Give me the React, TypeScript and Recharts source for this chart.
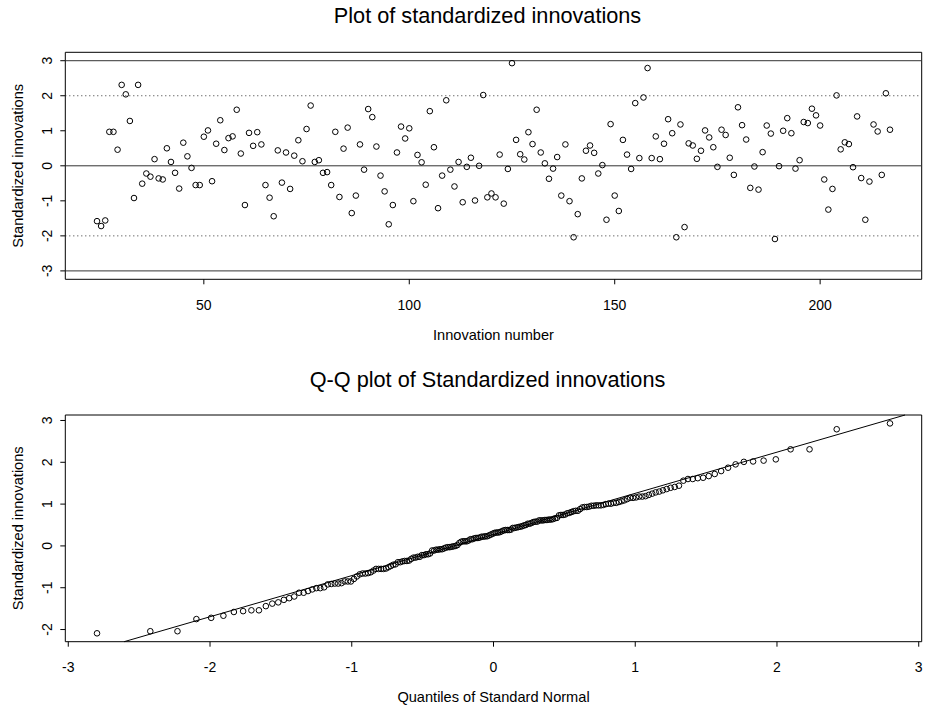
import { ScatterChart, Scatter, XAxis, YAxis, ReferenceLine, ReferenceArea } from 'recharts'

const FONT = '"Liberation Sans", Arial, Helvetica, sans-serif'

// standardized innovations, one per time index starting at 24
const firstIndex = 24
const innovations = [
  -1.58, -1.72, -1.56, 0.97, 0.97, 0.46, 2.31, 2.04, 1.28, -0.92, 2.31, -0.51, -0.22, -0.31, 0.19, -0.36, -0.39, 0.5, 0.11, -0.2, -0.65, 0.66, 0.27, -0.06, -0.55,
  -0.55, 0.83, 1.01, -0.44, 0.63, 1.3, 0.45, 0.79, 0.84, 1.6, 0.35, -1.12, 0.94, 0.57, 0.96, 0.61, -0.55, -0.91, -1.44, 0.44, -0.48, 0.38, -0.66, 0.29, 0.73,
  0.13, 1.05, 1.72, 0.11, 0.16, -0.2, -0.18, -0.55, 0.97, -0.89, 0.49, 1.09, -1.35, -0.85, 0.61, -0.11, 1.62, 1.39, 0.55, -0.28, -0.73, -1.67, -1.12, 0.38, 1.12,
  0.78, 1.07, -1.01, 0.31, 0.1, -0.54, 1.56, 0.53, -1.21, -0.28, 1.87, -0.11, -0.59, 0.11, -1.04, -0.03, 0.23, -0.99, 0.0, 2.02, -0.9, -0.79, -0.9, 0.32, -1.08,
  -0.09, 2.93, 0.74, 0.33, 0.18, 0.96, 0.62, 1.6, 0.38, 0.07, -0.37, -0.08, 0.25, -0.85, 0.61, -1.01, -2.04, -1.38, -0.36, 0.43, 0.58, 0.37, -0.22, 0.02, -1.54,
  1.19, -0.85, -1.29, 0.74, 0.32, -0.09, 1.79, 0.22, 1.95, 2.79, 0.22, 0.84, 0.19, 0.63, 1.33, 0.93, -2.04, 1.18, -1.75, 0.64, 0.58, 0.2, 0.43, 1.01, 0.81,
  0.53, -0.03, 1.03, 0.88, 0.23, -0.26, 1.67, 1.16, 0.75, -0.63, -0.02, -0.68, 0.39, 1.15, 0.92, -2.09, -0.01, 1.0, 1.36, 0.93, -0.08, 0.16, 1.25, 1.22, 1.63,
  1.44, 1.15, -0.39, -1.25, -0.66, 2.01, 0.47, 0.67, 0.62, -0.04, 1.41, -0.35, -1.54, -0.45, 1.18, 0.98, -0.26, 2.07, 1.03,
]

const indexTicks = [50, 100, 150, 200]
const innovTicks = [-3, -2, -1, 0, 1, 2, 3]
const solidLines = [-3, 0, 3]
const dottedLines = [-2, 2]
const innovLimits: [number, number] = [-3, 3]
const qqXTicks = [-3, -2, -1, 0, 1, 2, 3]
const qqYTicks = [-2, -1, 0, 1, 2, 3]

// R pads every axis range by 4% on each side
function pad(lo: number, hi: number): [number, number] {
  const d = (hi - lo) * 0.04
  return [lo - d, hi + d]
}

// inverse normal cdf (Acklam's approximation)
function qnorm(p: number) {
  const a = [-39.69683028665376, 220.9460984245205, -275.9285104469687, 138.357751867269, -30.66479806614716, 2.506628277459239]
  const b = [-54.47609879822406, 161.5858368580409, -155.6989798598866, 66.80131188771972, -13.28068155288572]
  const c = [-0.007784894002430293, -0.3223964580411365, -2.400758277161838, -2.549732539343734, 4.374664141464968, 2.938163982698783]
  const d = [0.007784695709041462, 0.3224671290700398, 2.445134137142996, 3.754408661907416]
  const plow = 0.02425
  if (p < plow) {
    const q = Math.sqrt(-2 * Math.log(p))
    return (((((c[0] * q + c[1]) * q + c[2]) * q + c[3]) * q + c[4]) * q + c[5]) / ((((d[0] * q + d[1]) * q + d[2]) * q + d[3]) * q + 1)
  }
  if (p <= 1 - plow) {
    const q = p - 0.5
    const r = q * q
    return ((((((a[0] * r + a[1]) * r + a[2]) * r + a[3]) * r + a[4]) * r + a[5]) * q) / (((((b[0] * r + b[1]) * r + b[2]) * r + b[3]) * r + b[4]) * r + 1)
  }
  const q = Math.sqrt(-2 * Math.log(1 - p))
  return -(((((c[0] * q + c[1]) * q + c[2]) * q + c[3]) * q + c[4]) * q + c[5]) / ((((d[0] * q + d[1]) * q + d[2]) * q + d[3]) * q + 1)
}

function quantile7(sorted: number[], p: number) {
  const h = (sorted.length - 1) * p
  const lo = Math.floor(h)
  return sorted[lo] + (h - lo) * (sorted[Math.min(lo + 1, sorted.length - 1)] - sorted[lo])
}

const seriesData = innovations.map((v, i) => ({ x: firstIndex + i, y: v }))
const xDom = pad(firstIndex, firstIndex + innovations.length - 1)
const yDom = pad(innovLimits[0], innovLimits[1])

const sorted = [...innovations].sort((a, b) => a - b)
const n = sorted.length
const qqData = sorted.map((v, i) => ({ x: qnorm((i + 0.5) / n), y: v }))
const qqXDom = pad(qqData[0].x, qqData[n - 1].x)
const qqYDom = pad(sorted[0], sorted[n - 1])

// qqline through the quartiles, clipped to the plot box
const q1 = quantile7(sorted, 0.25)
const q3 = quantile7(sorted, 0.75)
const slope = (q3 - q1) / (qnorm(0.75) - qnorm(0.25))
const icpt = q1 - slope * qnorm(0.25)
const lx1 = Math.max(qqXDom[0], (qqYDom[0] - icpt) / slope)
const lx2 = Math.min(qqXDom[1], (qqYDom[1] - icpt) / slope)
const qqSegment = [
  { x: lx1, y: icpt + slope * lx1 },
  { x: lx2, y: icpt + slope * lx2 },
]

const Ring = (props: any) => <circle cx={props.cx} cy={props.cy} r={2.8} fill="none" stroke="#000" strokeWidth={1} />

const XTick = (props: any) => (
  <text x={props.x} y={props.y + 25.5} textAnchor="middle" fontSize={14} fontFamily={FONT} fill="#000">
    {props.payload.value}
  </text>
)

const YTick = (props: any) => {
  const tx = props.x - 8.6
  return (
    <text x={tx} y={props.y} transform={`rotate(-90 ${tx} ${props.y})`} textAnchor="middle" fontSize={14} fontFamily={FONT} fill="#000">
      {props.payload.value}
    </text>
  )
}

export default function App() {
  return (
    <div style={{ position: 'absolute', left: 0, top: 0, width: 925, height: 710, background: '#fff' }}>
      <div style={{ position: 'absolute', left: 0, top: 0 }}>
        <ScatterChart width={925} height={360} margin={{ top: 52.3, right: 3.3, bottom: 0, left: 0 }}>
          <XAxis type="number" dataKey="x" domain={xDom} allowDataOverflow ticks={indexTicks} interval={0}
            height={80.7} axisLine={false} tickLine={{ stroke: '#000' }} tickSize={5} tickMargin={0} tick={<XTick />} />
          <YAxis type="number" dataKey="y" domain={yDom} allowDataOverflow ticks={innovTicks} interval={0}
            width={65.3} axisLine={false} tickLine={{ stroke: '#000' }} tickSize={5} tickMargin={0} tick={<YTick />} />
          {solidLines.map(v => (
            <ReferenceLine key={'s' + v} y={v} stroke="#333" strokeWidth={1} />
          ))}
          {dottedLines.map(v => (
            <ReferenceLine key={'d' + v} y={v} stroke="#333" strokeWidth={1} strokeDasharray="1 3" />
          ))}
          <ReferenceArea x1={xDom[0]} x2={xDom[1]} y1={yDom[0]} y2={yDom[1]} fill="none" fillOpacity={0} stroke="#000" strokeWidth={1} ifOverflow="visible" />
          <Scatter data={seriesData} shape={Ring} isAnimationActive={false} />
        </ScatterChart>
      </div>
      <div style={{ position: 'absolute', left: 0, top: 360 }}>
        <ScatterChart width={925} height={350} margin={{ top: 55, right: 3.3, bottom: 0, left: 0 }}>
          <XAxis type="number" dataKey="x" domain={qqXDom} allowDataOverflow ticks={qqXTicks} interval={0}
            height={68.3} axisLine={false} tickLine={{ stroke: '#000' }} tickSize={5} tickMargin={0} tick={<XTick />} />
          <YAxis type="number" dataKey="y" domain={qqYDom} allowDataOverflow ticks={qqYTicks} interval={0}
            width={65.3} axisLine={false} tickLine={{ stroke: '#000' }} tickSize={5} tickMargin={0} tick={<YTick />} />
          <ReferenceArea x1={qqXDom[0]} x2={qqXDom[1]} y1={qqYDom[0]} y2={qqYDom[1]} fill="none" fillOpacity={0} stroke="#000" strokeWidth={1} ifOverflow="visible" />
          <ReferenceLine segment={qqSegment} stroke="#000" strokeWidth={1} ifOverflow="visible" />
          <Scatter data={qqData} shape={Ring} isAnimationActive={false} />
        </ScatterChart>
      </div>
      <svg width={925} height={710} style={{ position: 'absolute', left: 0, top: 0, pointerEvents: 'none' }}>
        <g fontFamily={FONT} fill="#000" textAnchor="middle">
          <text x={487.5} y={23.3} fontSize={21.7}>Plot of standardized innovations</text>
          <text x={493.5} y={340} fontSize={14.6}>Innovation number</text>
          <text x={23.5} y={165.8} fontSize={14.6} transform="rotate(-90 23.5 165.8)">Standardized innovations</text>
          <text x={487.5} y={386.5} fontSize={21.7}>Q-Q plot of Standardized innovations</text>
          <text x={493.5} y={702} fontSize={14.6}>Quantiles of Standard Normal</text>
          <text x={23.5} y={528.3} fontSize={14.6} transform="rotate(-90 23.5 528.3)">Standardized innovations</text>
        </g>
      </svg>
    </div>
  )
}
